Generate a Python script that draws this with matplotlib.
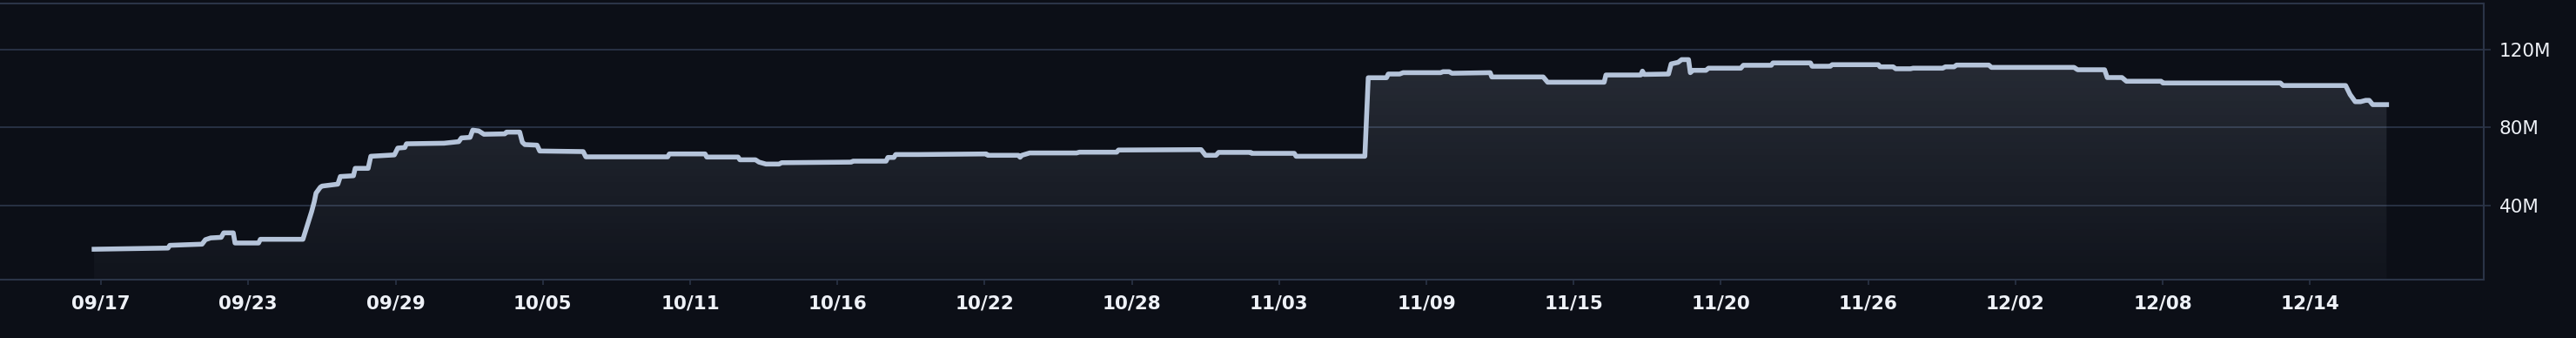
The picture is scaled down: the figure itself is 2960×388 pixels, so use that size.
import matplotlib
matplotlib.use("Agg")
import matplotlib.pyplot as plt
from matplotlib.colors import LinearSegmentedColormap
from matplotlib.patches import PathPatch
import numpy as np

# bar position on the time scale (a date label every 10 bars) and value in millions
bar_pos = [-0.47, 4.55, 4.67, 6.86, 7.09, 7.45, 8.16, 8.33, 8.98, 9.10, 10.70, 10.82,
           13.71, 14.01, 14.30, 14.48, 14.60, 14.89, 15.01, 16.08, 16.25, 17.14, 17.26,
           18.14, 18.32, 19.92, 20.15, 20.63, 20.74, 23.29, 24.29, 24.47, 25.06, 25.24,
           25.65, 26.00, 27.42, 27.54, 28.43, 28.61, 28.78, 29.61, 29.79, 32.74, 32.92,
           38.48, 38.59, 41.02, 41.13, 43.26, 43.38, 44.44, 44.68, 45.15, 46.04, 46.22,
           50.95, 51.06, 53.31, 53.43, 53.84, 53.96, 55.50, 60.11, 60.22, 62.29, 62.41,
           62.53, 63.06, 66.25, 66.43, 68.97, 69.09, 74.70, 75.00, 75.71, 75.89, 78.07,
           78.13, 81.03, 81.15, 85.82, 86.05, 87.29, 87.41, 88.18, 88.42, 90.96, 91.13,
           91.55, 91.73, 94.33, 94.44, 97.93, 98.23, 102.07, 102.19, 104.55, 104.67,
           104.79, 106.44, 106.62, 107.09, 107.33, 107.80, 107.92, 108.10, 108.98,
           109.16, 111.35, 111.52, 113.42, 113.53, 116.08, 116.19, 117.43, 117.55,
           120.69, 120.80, 121.69, 121.87, 122.87, 123.05, 125.06, 125.24, 125.83,
           126.00, 128.19, 128.37, 133.98, 134.22, 136.05, 136.23, 137.23, 137.53,
           139.89, 140.01, 147.99, 148.17, 152.42, 152.72, 153.07, 153.43, 153.78,
           154.02, 154.26, 155.20]
value_m = [17.6, 18.2, 19.6, 20.2, 22.5, 23.4, 23.7, 26.0, 26.0, 20.8, 20.8, 22.7,
           22.7, 30.0, 36.9, 42.0, 46.4, 49.4, 50.0, 51.0, 54.9, 55.3, 59.1,
           59.1, 65.3, 66.0, 69.5, 69.8, 71.7, 72.0, 72.8, 74.7, 75.0, 78.7,
           78.3, 76.6, 76.8, 77.7, 77.7, 72.5, 71.3, 71.0, 68.0, 67.7, 65.0,
           65.0, 66.5, 66.5, 64.9, 64.9, 63.5, 63.5, 62.3, 61.3, 61.3, 62.0,
           62.3, 62.8, 62.8, 64.7, 64.7, 66.2, 66.2, 66.5, 65.8, 65.8, 64.8,
           65.8, 67.0, 67.0, 67.4, 67.4, 68.5, 68.7, 65.8, 65.8, 67.3, 67.3,
           66.8, 66.8, 65.3, 65.3, 105.6, 105.6, 107.5, 107.5, 108.2, 108.2, 108.7,
           108.7, 107.9, 108.2, 106.0, 106.0, 103.3, 103.3, 107.0, 107.0, 109.0,
           107.3, 107.5, 112.7, 113.5, 114.9, 114.9, 108.2, 109.4, 109.4,
           110.5, 110.5, 112.0, 112.0, 113.2, 113.2, 111.5, 111.5, 112.3,
           112.3, 111.2, 111.2, 110.2, 110.2, 110.5, 110.5, 111.2, 111.2,
           112.1, 112.1, 110.9, 110.9, 109.7, 109.7, 105.7, 105.7, 103.8,
           103.8, 102.9, 102.9, 101.6, 101.6, 97.0, 93.3, 93.3, 94.0,
           94.0, 91.8, 91.8]

tick_pos = list(range(0, 160, 10))
tick_labels = ['09/17', '09/23', '09/29', '10/05', '10/11', '10/16', '10/22', '10/28',
               '11/03', '11/09', '11/15', '11/20', '11/26', '12/02', '12/08', '12/14']
y_ticks = [40, 80, 120]
y_labels = ['40M', '80M', '120M']

BG = '#0c0f17'
GRID = '#2b3447'
LINE = '#b5c4da'
TEXT = '#eef1f7'
X_MIN, X_MAX = -6.86, 161.8
Y_MIN, Y_MAX = 2.0, 143.7

plt.rcParams['font.family'] = ['DejaVu Sans']

fig = plt.figure(figsize=(29.6, 3.88), dpi=100, facecolor=BG)
ax = fig.add_axes([0, 0.1727, 0.9642, 0.8170])
ax.set_facecolor(BG)

for y in y_ticks:
    ax.axhline(y, color=GRID, lw=1.3, zorder=1)

# area under the line: vertical gradient clipped to the filled shape
area = ax.fill_between(bar_pos, value_m, Y_MIN, color='none', lw=0)
clip = PathPatch(area.get_paths()[0], transform=ax.transData, facecolor='none', edgecolor='none')
ax.add_patch(clip)
cmap = LinearSegmentedColormap.from_list('area', [(0.71, 0.77, 0.85, 0.03), (0.71, 0.77, 0.85, 0.19)])
grad = np.linspace(0, 1, 256).reshape(-1, 1)
im = ax.imshow(grad, extent=[X_MIN, X_MAX, Y_MIN, Y_MAX], origin='lower', aspect='auto',
               cmap=cmap, zorder=2, interpolation='bilinear')
im.set_clip_path(clip)

ax.plot(bar_pos, value_m, color=LINE, lw=4.0, solid_joinstyle='round', zorder=4)

ax.set_xlim(X_MIN, X_MAX)
ax.set_ylim(Y_MIN, Y_MAX)

ax.set_xticks(tick_pos, tick_labels)
ax.set_yticks(y_ticks, y_labels)
ax.yaxis.tick_right()
ax.tick_params(axis='x', length=4.3, width=1.2, color=GRID, pad=8, labelsize=15.5, labelcolor=TEXT)
ax.tick_params(axis='y', length=5.8, width=1.2, color=GRID, pad=7, labelsize=15.5, labelcolor=TEXT)
for lbl in ax.get_xticklabels():
    lbl.set_fontweight('bold')

ax.spines['left'].set_visible(False)
for side in ['top', 'right', 'bottom']:
    ax.spines[side].set_color(GRID)
    ax.spines[side].set_linewidth(1.5)

fig.savefig('out.png', dpi=100, facecolor=BG)
